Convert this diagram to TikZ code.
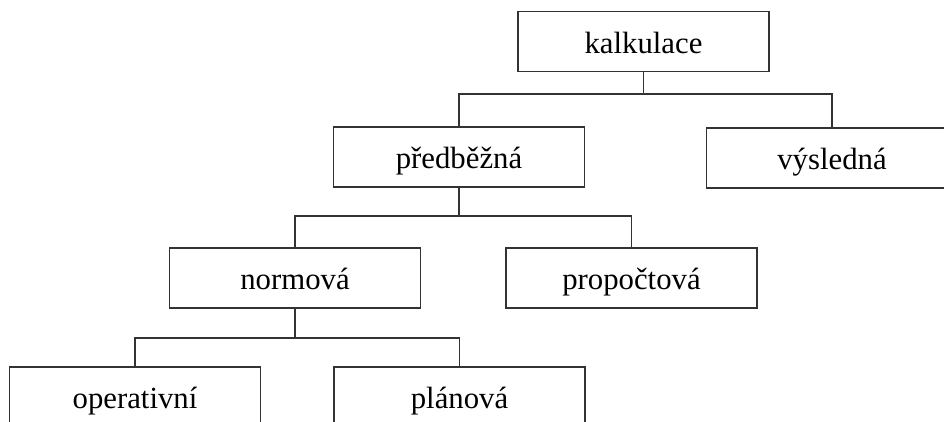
\documentclass[tikz,border=0pt]{standalone}
\usepackage{fontspec}
\setmainfont{Liberation Serif}
\usepackage{tikz}
\usetikzlibrary{
arrows.meta,
positioning,
calc
}

\begin{document}
\begin{tikzpicture}[
box/.style={
draw=black!80,
line width=0.9pt,
minimum width=5.02cm,
minimum height=1.2cm,
inner sep=0pt,
text height=0.5cm,
text depth=0.04cm,
align=center,
font=\fontsize{17.5}{20}\selectfont
},
link/.style={draw=black!80,line width=0.9pt}
]

\useasboundingbox (0,0) rectangle (18.88,-8.42);

\node[box] (kalk) at (12.87,-0.83) {kalkulace};
\node[box] (pred) at (9.18,-3.14) {předběžná};
\node[box] (vysl) at (16.64,-3.16) {výsledná};
\node[box] (norm) at (5.90,-5.56) {normová};
\node[box] (prop) at (12.63,-5.56) {propočtová};
\node[box] (oper) at (2.70,-7.94) {operativní};
\node[box] (plan) at (9.19,-7.94) {plánová};

% branch points
\coordinate (j1) at (kalk.south |- 0,-1.88);
\coordinate (j2) at (pred.south |- 0,-4.32);
\coordinate (j3) at (norm.south |- 0,-6.76);

\draw[link] (kalk.south) -- (j1);
\draw[link] (pred.north) |- (j1) -| (vysl.north);

\draw[link] (pred.south) -- (j2);
\draw[link] (norm.north) |- (j2) -| (prop.north);

\draw[link] (norm.south) -- (j3);
\draw[link] (oper.north) |- (j3) -| (plan.north);

\end{tikzpicture}
\end{document}
